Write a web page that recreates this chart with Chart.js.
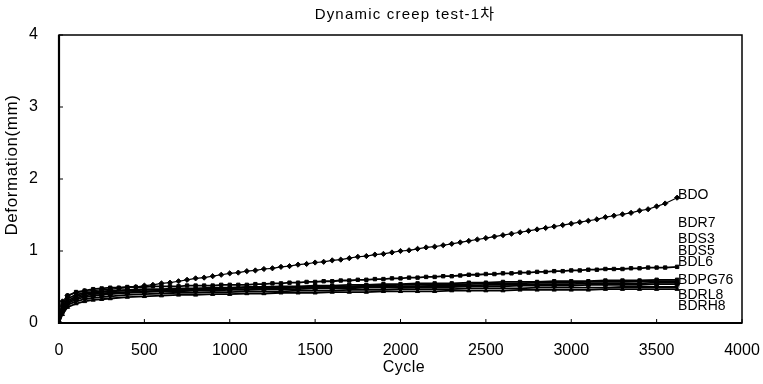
<!DOCTYPE html>
<html>
<head>
<meta charset="utf-8">
<script src="https://cdn.jsdelivr.net/npm/chart.js@4"></script>
<style>
  body { margin: 0; background: #fff; }
  #wrap { width: 763px; height: 384px; }
</style>
</head>
<body>
<div id="wrap"><canvas id="creep" width="763" height="384"></canvas></div>
<script>
const chartTitle = "Dynamic creep test-1차";
const xTitle = "Cycle";
const yTitle = "Deformation(mm)";

// BDO and BDL6 were logged more densely
const cyclesFine = [0, 20, 50, 100, 150, 200, 250, 300, 350, 400,
  450, 500, 550, 600, 650, 700, 750, 800, 850, 900,
  950, 1000, 1050, 1100, 1150, 1200, 1250, 1300, 1350, 1400,
  1450, 1500, 1550, 1600, 1650, 1700, 1750, 1800, 1850, 1900,
  1950, 2000, 2050, 2100, 2150, 2200, 2250, 2300, 2350, 2400,
  2450, 2500, 2550, 2600, 2650, 2700, 2750, 2800, 2850, 2900,
  2950, 3000, 3050, 3100, 3150, 3200, 3250, 3300, 3350, 3400,
  3450, 3500, 3550, 3620];

const cyclesCoarse = [0, 20, 50, 100, 150, 200, 250, 300, 400, 500,
  600, 700, 800, 900, 1000, 1100, 1200, 1300, 1400, 1500,
  1600, 1700, 1800, 1900, 2000, 2100, 2200, 2300, 2400, 2500,
  2600, 2700, 2800, 2900, 3000, 3100, 3200, 3300, 3400, 3500,
  3620];

const bdo = [0, 0.30, 0.38, 0.42, 0.44, 0.45, 0.46, 0.47, 0.48, 0.49,
  0.50, 0.52, 0.53, 0.55, 0.56, 0.58, 0.60, 0.62, 0.63, 0.65,
  0.67, 0.69, 0.70, 0.72, 0.73, 0.75, 0.76, 0.78, 0.79, 0.81,
  0.82, 0.84, 0.85, 0.87, 0.88, 0.90, 0.92, 0.93, 0.95, 0.96,
  0.98, 1.00, 1.01, 1.03, 1.05, 1.06, 1.08, 1.10, 1.12, 1.14,
  1.16, 1.18, 1.20, 1.22, 1.24, 1.26, 1.28, 1.30, 1.32, 1.34,
  1.36, 1.38, 1.40, 1.42, 1.44, 1.47, 1.49, 1.51, 1.53, 1.56,
  1.58, 1.62, 1.66, 1.74];

const bdl6 = [0, 0.25, 0.38, 0.43, 0.45, 0.47, 0.48, 0.49, 0.49, 0.50,
  0.50, 0.50, 0.51, 0.51, 0.51, 0.51, 0.52, 0.52, 0.52, 0.52,
  0.53, 0.53, 0.53, 0.53, 0.54, 0.54, 0.55, 0.55, 0.56, 0.56,
  0.57, 0.57, 0.58, 0.58, 0.59, 0.59, 0.60, 0.60, 0.61, 0.61,
  0.62, 0.62, 0.63, 0.63, 0.64, 0.64, 0.65, 0.65, 0.66, 0.67,
  0.67, 0.68, 0.68, 0.69, 0.69, 0.70, 0.70, 0.71, 0.71, 0.72,
  0.72, 0.73, 0.73, 0.74, 0.74, 0.75, 0.75, 0.75, 0.76, 0.76,
  0.77, 0.77, 0.77, 0.78];

const bdr7 = [0, 0.22, 0.34, 0.39, 0.42, 0.43, 0.44, 0.45, 0.46, 0.47,
  0.47, 0.48, 0.48, 0.49, 0.49, 0.50, 0.50, 0.51, 0.51, 0.52,
  0.52, 0.53, 0.53, 0.54, 0.54, 0.55, 0.55, 0.55, 0.56, 0.56,
  0.57, 0.57, 0.57, 0.58, 0.58, 0.58, 0.59, 0.59, 0.59, 0.60,
  0.60];

const bds3 = [0, 0.20, 0.31, 0.37, 0.40, 0.42, 0.43, 0.44, 0.45, 0.46,
  0.46, 0.47, 0.47, 0.48, 0.48, 0.49, 0.49, 0.50, 0.50, 0.50,
  0.51, 0.51, 0.52, 0.52, 0.53, 0.53, 0.53, 0.54, 0.54, 0.55,
  0.55, 0.55, 0.56, 0.56, 0.56, 0.57, 0.57, 0.57, 0.58, 0.58,
  0.58];

const bds5 = [0, 0.18, 0.29, 0.35, 0.38, 0.40, 0.41, 0.42, 0.43, 0.44,
  0.45, 0.45, 0.46, 0.46, 0.47, 0.47, 0.48, 0.48, 0.49, 0.49,
  0.49, 0.50, 0.50, 0.51, 0.51, 0.51, 0.52, 0.52, 0.52, 0.53,
  0.53, 0.53, 0.54, 0.54, 0.54, 0.55, 0.55, 0.55, 0.55, 0.56,
  0.56];

const bdpg76 = [0, 0.16, 0.27, 0.33, 0.36, 0.38, 0.39, 0.40, 0.42, 0.43,
  0.44, 0.44, 0.45, 0.45, 0.46, 0.46, 0.47, 0.47, 0.47, 0.48,
  0.48, 0.48, 0.49, 0.49, 0.49, 0.50, 0.50, 0.50, 0.51, 0.51,
  0.51, 0.52, 0.52, 0.52, 0.52, 0.53, 0.53, 0.53, 0.53, 0.54,
  0.54];

const bdrl8 = [0, 0.14, 0.25, 0.30, 0.33, 0.35, 0.36, 0.37, 0.39, 0.40,
  0.41, 0.42, 0.42, 0.43, 0.43, 0.44, 0.44, 0.44, 0.45, 0.45,
  0.45, 0.46, 0.46, 0.46, 0.47, 0.47, 0.47, 0.47, 0.48, 0.48,
  0.48, 0.48, 0.49, 0.49, 0.49, 0.49, 0.49, 0.50, 0.50, 0.50,
  0.50];

const bdrh8 = [0, 0.12, 0.22, 0.27, 0.30, 0.32, 0.33, 0.34, 0.36, 0.37,
  0.38, 0.39, 0.39, 0.40, 0.40, 0.41, 0.41, 0.42, 0.42, 0.42,
  0.43, 0.43, 0.43, 0.44, 0.44, 0.44, 0.44, 0.45, 0.45, 0.45,
  0.45, 0.46, 0.46, 0.46, 0.46, 0.46, 0.47, 0.47, 0.47, 0.47,
  0.47];

const seriesNames = ["BDO", "BDR7", "BDS3", "BDS5", "BDL6", "BDPG76", "BDRL8", "BDRH8"];
const seriesValues = [bdo, bdr7, bds3, bds5, bdl6, bdpg76, bdrl8, bdrh8];
const seriesCycles = [cyclesFine, cyclesCoarse, cyclesCoarse, cyclesCoarse, cyclesFine, cyclesCoarse, cyclesCoarse, cyclesCoarse];
const seriesMarkers = ["rectRot", "rect", "triangle", "crossRot", "rect", "circle", "cross", "triangle"];
// where the end labels sit (in mm, they were spread apart by hand)
const labelY = [1.78, 1.39, 1.17, 1.00, 0.85, 0.60, 0.39, 0.24];

const xTicks = { min: 0, max: 4000, step: 500 };
const yTicks = { min: 0, max: 4, step: 1 };

Chart.defaults.font.family = "'Liberation Sans', Arial, sans-serif";
Chart.defaults.color = "#000";

// ——— datasets ———
const datasets = seriesNames.map((name, i) => ({
  label: name,
  data: seriesCycles[i].map((c, j) => ({ x: c, y: seriesValues[i][j] })),
  borderColor: "#000",
  backgroundColor: "#000",
  borderWidth: i === 0 ? 1.2 : 1.8,
  pointStyle: seriesMarkers[i],
  pointRadius: i === 0 ? 2.6 : 2.4,
  pointBorderWidth: 1,
  tension: 0,
}));

// ——— frame, inner ticks, titles and end labels ———
const decorations = {
  id: "decorations",
  afterDraw(chart) {
    const { ctx, chartArea: a, scales } = chart;
    const xs = scales.x, ys = scales.y;
    ctx.save();

    // frame
    ctx.strokeStyle = "#000";
    ctx.lineWidth = 1.5;
    ctx.strokeRect(a.left, a.top, a.right - a.left, a.bottom - a.top);
    ctx.lineWidth = 2.2;
    ctx.beginPath();
    ctx.moveTo(a.left, a.top);
    ctx.lineTo(a.left, a.bottom);
    ctx.lineTo(a.right, a.bottom);
    ctx.stroke();

    // little inward tick marks
    ctx.lineWidth = 1;
    xs.ticks.forEach((t) => {
      const px = xs.getPixelForValue(t.value);
      ctx.beginPath();
      ctx.moveTo(px, a.bottom);
      ctx.lineTo(px, a.bottom - 4);
      ctx.stroke();
    });
    ys.ticks.forEach((t) => {
      const py = ys.getPixelForValue(t.value);
      ctx.beginPath();
      ctx.moveTo(a.left, py);
      ctx.lineTo(a.left + 4, py);
      ctx.stroke();
    });

    ctx.fillStyle = "#000";
    ctx.textAlign = "center";
    ctx.textBaseline = "middle";

    // chart title
    ctx.font = "15px 'Liberation Sans', 'Noto Sans CJK KR', sans-serif";
    ctx.letterSpacing = "1.2px";
    ctx.fillText(chartTitle, 405, 15);

    // x title
    ctx.font = "16px 'Liberation Sans', sans-serif";
    ctx.letterSpacing = "0.5px";
    ctx.fillText(xTitle, 404, 368);

    // y title
    ctx.save();
    ctx.translate(12, 165);
    ctx.rotate(-Math.PI / 2);
    ctx.font = "17px 'Liberation Sans', sans-serif";
    ctx.letterSpacing = "0.6px";
    ctx.fillText(yTitle, 0, 0);
    ctx.restore();

    // series end labels
    ctx.font = "14px 'Liberation Sans', sans-serif";
    ctx.letterSpacing = "0px";
    ctx.textAlign = "left";
    seriesNames.forEach((name, i) => {
      const cyc = seriesCycles[i];
      const px = xs.getPixelForValue(cyc[cyc.length - 1]) + 1;
      const py = ys.getPixelForValue(labelY[i]);
      ctx.fillText(name, px, py);
    });

    ctx.restore();
  },
};

const ctx = document.getElementById("creep").getContext("2d");
new Chart(ctx, {
  type: "line",
  data: { datasets },
  options: {
    responsive: false,
    animation: false,
    layout: { padding: { top: 35, right: 21, left: 0, bottom: 0 } },
    plugins: {
      legend: { display: false },
      tooltip: { enabled: false },
      title: { display: false },
    },
    scales: {
      x: {
        type: "linear",
        min: xTicks.min,
        max: xTicks.max,
        grid: { display: false, drawTicks: false },
        border: { display: false },
        ticks: {
          stepSize: xTicks.step,
          padding: 18,
          font: { size: 16 },
          color: "#000",
          callback: (v) => String(v),
        },
        afterFit: (scale) => {
          scale.height = 61;
          scale.paddingLeft = 0;
          scale.paddingRight = 0;
        },
      },
      y: {
        min: yTicks.min,
        max: yTicks.max,
        grid: { display: false, drawTicks: false },
        border: { display: false },
        ticks: { stepSize: yTicks.step, padding: 21, font: { size: 16 }, color: "#000" },
        afterFit: (scale) => {
          scale.width = 59;
          scale.paddingTop = 0;
          scale.paddingBottom = 0;
        },
      },
    },
  },
  plugins: [decorations],
});
</script>
</body>
</html>
